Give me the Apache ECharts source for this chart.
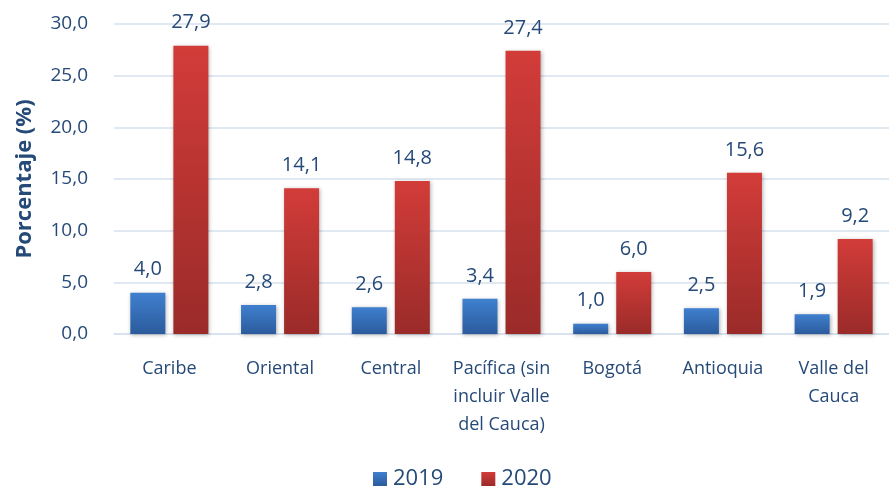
<!DOCTYPE html>
<html>
<head>
<meta charset="utf-8">
<script src="https://cdn.jsdelivr.net/npm/echarts@6/dist/echarts.min.js"></script>
<style>
  html, body { margin: 0; padding: 0; background: #fff; }
  #chart { width: 889px; height: 487px; }
</style>
</head>
<body>
<div id="chart"></div>
<script>
const regions = ['Caribe', 'Oriental', 'Central', 'Pacífica (sin\nincluir Valle\ndel Cauca)', 'Bogotá', 'Antioquia', 'Valle del\nCauca'];
const values2019 = [4.0, 2.8, 2.6, 3.4, 1.0, 2.5, 1.9];
const values2020 = [27.9, 14.1, 14.8, 27.4, 6.0, 15.6, 9.2];

const textColor = '#264a78';
const fmt = v => v.toFixed(1).replace('.', ',');

function grad(top, bottom) {
    return new echarts.graphic.LinearGradient(0, 0, 0, 1, [
        { offset: 0, color: top },
        { offset: 1, color: bottom }
    ]);
}

const chart = echarts.init(document.getElementById('chart'));
const option = {
    animation: false,
    textStyle: { fontFamily: 'Open Sans', color: textColor },
    grid: { left: 114, right: 0, top: 24, bottom: 153 },
    legend: {
        top: 463,
        left: 368,
        icon: 'rect',
        itemWidth: 14,
        itemHeight: 14,
        itemGap: 38,
        itemStyle: { shadowBlur: 0, shadowOffsetX: 0, shadowOffsetY: 0 },
        textStyle: { fontSize: 22, color: textColor, fontFamily: 'Open Sans', padding: [0, 0, 0, 1] },
        data: ['2019', '2020']
    },
    xAxis: {
        type: 'category',
        data: regions,
        axisLine: { lineStyle: { color: '#d6e0ee', width: 1.5 } },
        axisTick: { show: false },
        axisLabel: { interval: 0, fontSize: 18, color: textColor, lineHeight: 28, margin: 21 }
    },
    yAxis: {
        type: 'value',
        min: 0,
        max: 30,
        interval: 5,
        name: 'Porcentaje (%)',
        nameLocation: 'middle',
        nameGap: 78,
        nameTextStyle: { fontSize: 22, fontWeight: 'bold', color: textColor },
        axisLabel: { fontSize: 19, color: textColor, margin: 26, formatter: fmt },
        splitLine: { lineStyle: { color: '#d6e0ee', width: 1.5 } },
        axisLine: { show: false }
    },
    series: [
        {
            name: '2019',
            type: 'bar',
            data: values2019,
            barWidth: 35,
            barGap: '23%',
            itemStyle: {
                color: grad('#3f80cf', '#2b5b9c'),
                shadowColor: 'rgba(0,0,0,0.3)',
                shadowBlur: 4,
                shadowOffsetX: 1,
                shadowOffsetY: 1
            },
            label: { show: true, position: 'top', distance: 13, fontSize: 20, color: textColor, formatter: p => fmt(p.value) }
        },
        {
            name: '2020',
            type: 'bar',
            data: values2020,
            barWidth: 35,
            itemStyle: {
                color: grad('#d23c39', '#9a2b29'),
                shadowColor: 'rgba(0,0,0,0.3)',
                shadowBlur: 4,
                shadowOffsetX: 1,
                shadowOffsetY: 1
            },
            label: { show: true, position: 'top', distance: 13, fontSize: 20, color: textColor, formatter: p => fmt(p.value) }
        }
    ]
};
chart.setOption(option);
</script>
</body>
</html>
